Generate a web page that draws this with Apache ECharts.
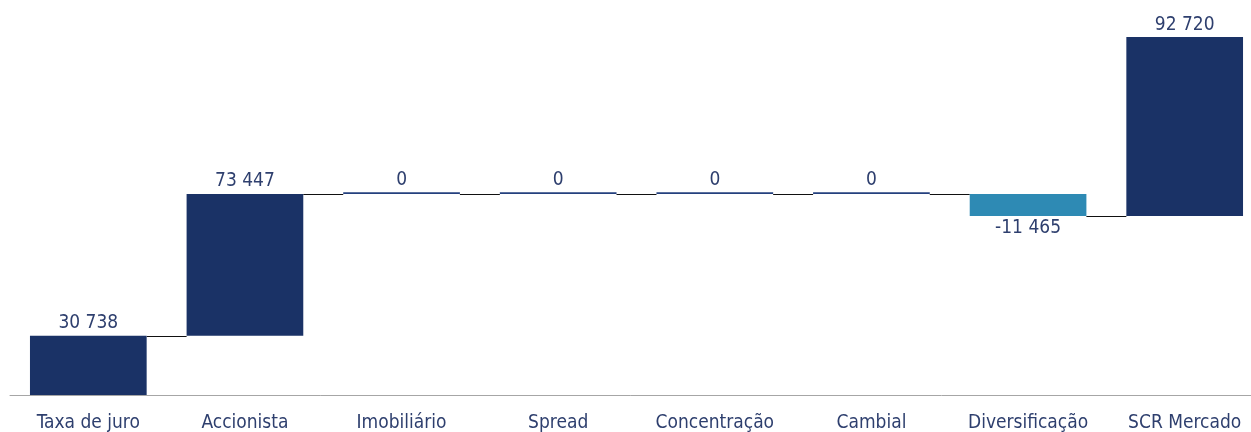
<!DOCTYPE html>
<html>
<head>
<meta charset="utf-8">
<script src="https://cdn.jsdelivr.net/npm/echarts@6/dist/echarts.min.js"></script>
<style>
  html, body { margin: 0; padding: 0; background: #ffffff; }
  #chart { width: 1251px; height: 432px; }
</style>
</head>
<body>
<div id="chart"></div>
<script>
// SCR de mercado: contribuições por sub-módulo
const categories = ['Taxa de juro', 'Accionista', 'Imobiliário', 'Spread', 'Concentração', 'Cambial', 'Diversificação', 'SCR Mercado'];
const values = [30738, 73447, 0, 0, 0, 0, -11465, 92720];
const isTotal = [false, false, false, false, false, false, false, true];

const NAVY = '#1a3266';
const TEAL = '#2e8ab4';
const TEXT = '#2e3f6e';
const FONT = "'DejaVu Sans Condensed', 'DejaVu Sans', sans-serif";

// Build invisible bases and visible heights for the waterfall
const bases = [];
const heights = [];
const levels = [];      // running level after each step
let running = 0;
values.forEach((v, i) => {
  if (isTotal[i]) {
    // total bar sits on the running level
    bases.push(running);
    heights.push(v);
    levels.push(running);
  } else if (v >= 0) {
    bases.push(running);
    heights.push(v);
    running += v;
    levels.push(running);
  } else {
    running += v;
    bases.push(running);
    heights.push(-v);
    levels.push(running);
  }
});

const fmt = n => String(n).replace(/\B(?=(\d{3})+(?!\d))/g, ' ');

// Connector segments between neighbouring bars
const connectors = [];
for (let i = 0; i < categories.length - 1; i++) {
  connectors.push([i, levels[i]]);
}

const chart = echarts.init(document.getElementById('chart'), null, { renderer: 'canvas' });
const BAR_RATIO = 0.745;

chart.setOption({
  animation: false,
  grid: { left: 10, top: 9, width: 1253, bottom: 37, containLabel: false, outerBoundsMode: 'none' },
  xAxis: {
    type: 'category',
    data: categories,
    axisLine: { show: true, lineStyle: { color: '#a6a6a6', width: 1 } },
    axisTick: { show: false },
    axisLabel: { color: TEXT, fontSize: 19, fontFamily: FONT, margin: 19, interval: 0, hideOverlap: false }
  },
  yAxis: {
    type: 'value',
    min: 0,
    max: 200000,
    show: false,
    splitLine: { show: false }
  },
  series: [
    {
      name: 'base',
      type: 'bar',
      stack: 'wf',
      barWidth: (BAR_RATIO * 100) + '%',
      itemStyle: { color: 'transparent' },
      emphasis: { disabled: true },
      data: bases
    },
    {
      name: 'valor',
      type: 'bar',
      stack: 'wf',
      barWidth: (BAR_RATIO * 100) + '%',
      barMinHeight: 1.6,
      data: heights.map((h, i) => ({
        value: h,
        itemStyle: { color: values[i] < 0 ? TEAL : (values[i] === 0 ? '#24407e' : NAVY) },
        label: {
          show: true,
          position: values[i] < 0 ? 'bottom' : 'top',
          distance: 3,
          formatter: () => fmt(values[i]),
          color: TEXT,
          fontSize: 19,
          fontFamily: FONT
        }
      }))
    },
    {
      name: 'ligações',
      type: 'custom',
      silent: true,
      data: connectors,
      renderItem: (params, api) => {
        const i = api.value(0);
        const lvl = api.value(1);
        const bw = api.size([1, 0])[0] * BAR_RATIO;
        const p1 = api.coord([i, lvl]);
        const p2 = api.coord([i + 1, lvl]);
        const y = Math.round(p1[1]) + 0.5;
        return {
          type: 'line',
          shape: { x1: p1[0] + bw / 2, y1: y, x2: p2[0] - bw / 2, y2: y },
          style: { stroke: '#111111', lineWidth: 1 }
        };
      }
    }
  ]
});
</script>
</body>
</html>
